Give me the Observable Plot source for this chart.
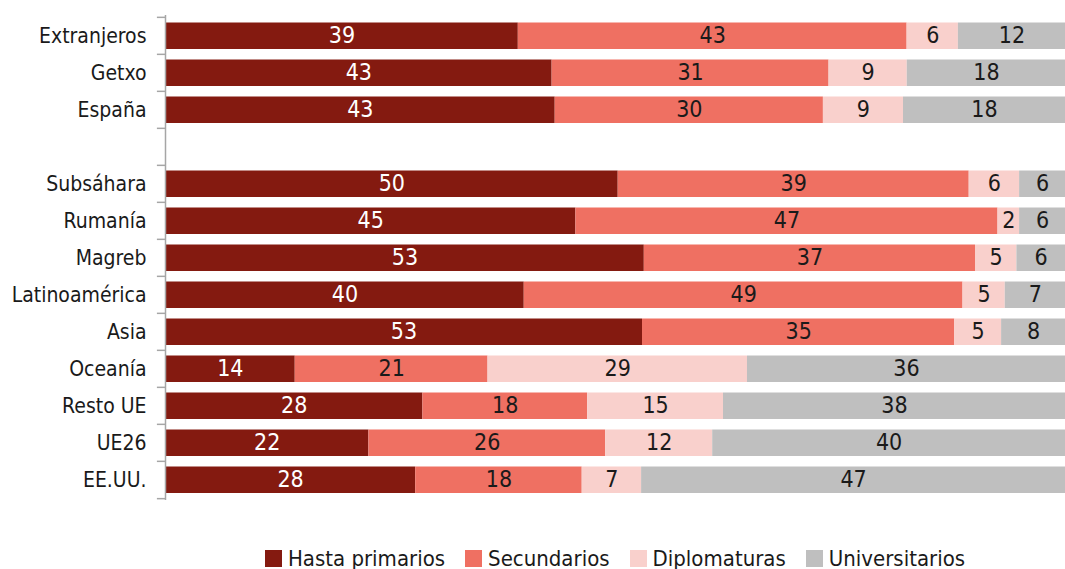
<!DOCTYPE html>
<html>
<head>
<meta charset="utf-8">
<script src="https://cdn.jsdelivr.net/npm/d3@7"></script>
<script src="https://cdn.jsdelivr.net/npm/@observablehq/plot@0.6"></script>
<style>
  html, body { margin: 0; padding: 0; background: #fff; }
  body { width: 1065px; font-family: "Liberation Sans Narrow", "DejaVu Sans Condensed", sans-serif; }
  #legend { display: flex; justify-content: center; align-items: center; padding-left: 165px; margin-top: 24px; font-size: 22px; line-height: 29px; color: #1a1a1a; }
  .item { display: flex; align-items: center; margin: 0 10px; }
  .sw { width: 17px; height: 17px; margin-right: 6px; }
</style>
</head>
<body>
<div id="chart"></div>
<div id="legend"></div>
<script>
const categories = ["Extranjeros", "Getxo", "España", " ", "Subsáhara", "Rumanía", "Magreb", "Latinoamérica", "Asia", "Oceanía", "Resto UE", "UE26", "EE.UU."];
const rows = ["Extranjeros", "Getxo", "España", "Subsáhara", "Rumanía", "Magreb", "Latinoamérica", "Asia", "Oceanía", "Resto UE", "UE26", "EE.UU."];
const levels = ["Hasta primarios", "Secundarios", "Diplomaturas", "Universitarios"];
const colors = ["#841a10", "#ef7062", "#f9d0cc", "#bfbfbf"];

// Shares (%)
const hastaPrimarios = [39.2, 43.0, 43.3, 50.3, 45.6, 53.2, 39.9, 53.0, 14.4, 28.6, 22.6, 27.8];
const secundarios    = [43.2, 30.8, 29.8, 39.0, 46.9, 36.8, 48.8, 34.7, 21.4, 18.3, 26.3, 18.5];
const diplomaturas   = [5.7, 8.7, 8.9, 5.6, 2.4, 4.6, 4.7, 5.2, 28.8, 15.1, 11.9, 6.6];
const universitarios = [11.9, 17.6, 18.0, 5.1, 5.1, 5.4, 6.7, 7.1, 35.3, 38.0, 39.2, 47.1];

// Printed labels
const labHastaPrimarios = [39, 43, 43, 50, 45, 53, 40, 53, 14, 28, 22, 28];
const labSecundarios    = [43, 31, 30, 39, 47, 37, 49, 35, 21, 18, 26, 18];
const labDiplomaturas   = [6, 9, 9, 6, 2, 5, 5, 5, 29, 15, 12, 7];
const labUniversitarios = [12, 18, 18, 6, 6, 6, 7, 8, 36, 38, 40, 47];

const series = [hastaPrimarios, secundarios, diplomaturas, universitarios];
const labels = [labHastaPrimarios, labSecundarios, labDiplomaturas, labUniversitarios];
const data = [];
rows.forEach((r, i) => levels.forEach((l, j) => data.push({cat: r, level: l, value: series[j][i], label: labels[j][i]})));

const stackOpts = {x: "value", y: "cat", z: "level", order: levels, offset: "normalize"};
const step = (500 - 15) / categories.length;
const font = '"Liberation Sans Narrow", "DejaVu Sans Condensed", sans-serif';

const chart = Plot.plot({
  width: 1065,
  height: 520,
  marginLeft: 165,
  marginRight: 0,
  marginTop: 15,
  marginBottom: 20,
  style: {fontFamily: font, fontSize: "21px", color: "#1a1a1a"},
  x: {domain: [0, 1], axis: null},
  y: {domain: categories, padding: 0, label: null},
  color: {domain: levels, range: colors},
  marks: [
    Plot.barX(data, Plot.stackX({...stackOpts, fill: "level", insetTop: 5.5, insetBottom: 5})),
    Plot.text(data, Plot.stackX({...stackOpts, text: d => String(d.label), dy: -0.5,
      fill: d => d.level === levels[0] ? "#ffffff" : "#1a1a1a", fontSize: 23})),
    Plot.axisY({tickSize: 0, tickPadding: 19, fontSize: 21, fill: "#1a1a1a"}),
    Plot.ruleX([0], {stroke: "#a6a6a6", strokeWidth: 1.5}),
    Plot.ruleY(categories, {y: d => d, x1: -0.009, x2: 0, dy: -step / 2, stroke: "#a6a6a6", strokeWidth: 1.5}),
    Plot.ruleY([categories[categories.length - 1]], {y: d => d, x1: -0.009, x2: 0, dy: step / 2, stroke: "#a6a6a6", strokeWidth: 1.5})
  ]
});
document.getElementById("chart").appendChild(chart);

const legend = document.getElementById("legend");
levels.forEach((l, i) => {
  const item = document.createElement("div");
  item.className = "item";
  const sw = document.createElement("span");
  sw.className = "sw";
  sw.style.background = colors[i];
  const t = document.createElement("span");
  t.textContent = l;
  item.appendChild(sw);
  item.appendChild(t);
  legend.appendChild(item);
});
</script>
</body>
</html>
